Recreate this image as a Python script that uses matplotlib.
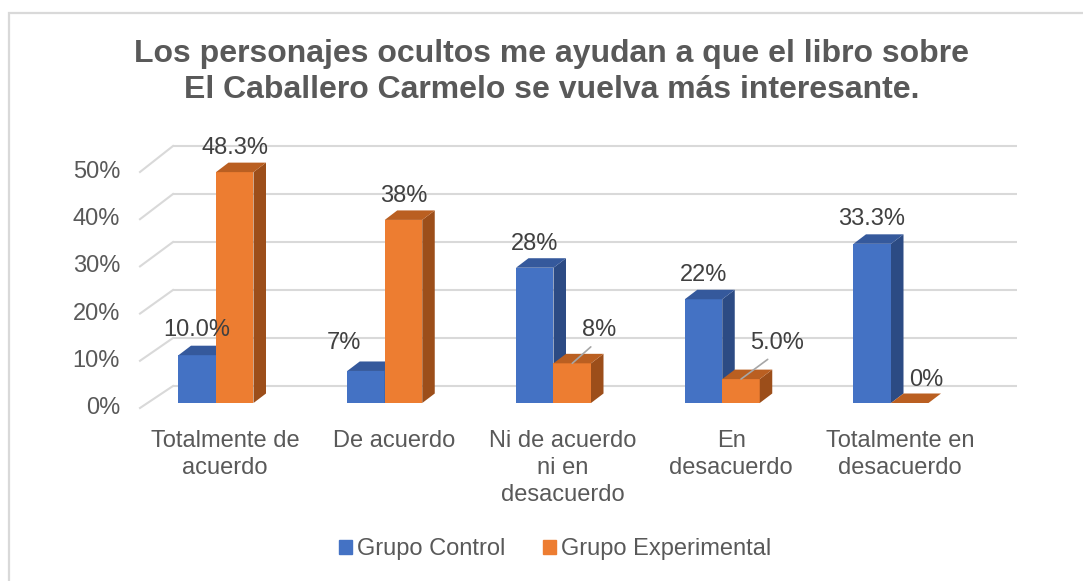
import matplotlib
matplotlib.use("Agg")
import matplotlib.pyplot as plt
from matplotlib.patches import Polygon, Rectangle

# ---------------- data ----------------
categories = ["Totalmente de\nacuerdo", "De acuerdo", "Ni de acuerdo\nni en\ndesacuerdo",
              "En\ndesacuerdo", "Totalmente en\ndesacuerdo"]
series_names = ["Grupo Control", "Grupo Experimental"]
control = [10.0, 6.7, 28.3, 21.7, 33.3]
experimental = [48.3, 38.3, 8.3, 5.0, 0.0]
control_labels = ["10.0%", "7%", "28%", "22%", "33.3%"]
experimental_labels = ["48.3%", "38%", "8%", "5.0%", "0%"]
y_ticks = [0, 10, 20, 30, 40, 50]
title = "Los personajes ocultos me ayudan a que el libro sobre\nEl Caballero Carmelo se vuelva más interesante."

# ---------------- layout constants (pixels) ----------------
W, H = 1083, 581
DPI = 100
PX_CAT = 168.75     # pixels between categories
X0 = 216.0          # pixel x of first category centre (bar plane)
Y0 = 403.0          # pixel y of value 0 in bar plane
PX_PCT = 4.78       # pixels per percent
BAR_W = 37.5 / PX_CAT
DEP_X = 12.5 / PX_CAT
DEP_Y = 9.5 / PX_PCT

FONT = "Liberation Sans"
TXT = "#595959"
LBL = "#404040"
GRID = "#D9D9D9"

blue = dict(front="#4472C4", side="#2C4B84", top="#35599C")
orange = dict(front="#ED7D31", side="#9C4E1A", top="#BA5F21")


def px_x(p):
    return (p - X0) / PX_CAT


def px_y(p):
    return (Y0 - p) / PX_PCT


fig = plt.figure(figsize=(W / DPI, H / DPI), dpi=DPI)
ax = fig.add_axes([0, 0, 1, 1])
ax.set_xlim(px_x(0), px_x(W))
ax.set_ylim(px_y(H), px_y(0))
ax.axis("off")

# chart border
ax.add_patch(Rectangle((px_x(8.5), px_y(H + 20)), px_x(W + 20) - px_x(8.5),
                       px_y(12.5) - px_y(H + 20), fill=False, edgecolor=GRID,
                       linewidth=1.6, zorder=0))

# ---------------- back wall gridlines + left slanted lines ----------------
back_left = px_x(173)
front_left = px_x(140)
right_end = px_x(1017)
for v in y_ticks:
    yb = px_y(386 - 4.8 * v)
    yf = px_y(408 - 4.72 * v)
    ax.plot([back_left, right_end], [yb, yb], color=GRID, lw=1.5, zorder=1,
            solid_capstyle="butt")
    ax.plot([front_left, back_left], [yf, yb], color=GRID, lw=1.5, zorder=1)
    ax.text(px_x(120), yf, f"{v}%", ha="right", va="center", fontsize=17,
            color=TXT, family=FONT)


# ---------------- 3D bars ----------------
def bar3d(x0, h, col, z):
    x1 = x0 + BAR_W
    ax.bar(x0, h, width=BAR_W, align="edge", color=col["front"], zorder=z,
           linewidth=0)
    side = Polygon([(x1, 0), (x1 + DEP_X, DEP_Y), (x1 + DEP_X, h + DEP_Y), (x1, h)],
                   closed=True, facecolor=col["side"], edgecolor="none", zorder=z)
    top = Polygon([(x0, h), (x0 + DEP_X, h + DEP_Y), (x1 + DEP_X, h + DEP_Y), (x1, h)],
                  closed=True, facecolor=col["top"], edgecolor="none", zorder=z)
    ax.add_patch(side)
    ax.add_patch(top)


for i in range(len(categories)):
    bar3d(i - BAR_W, control[i], blue, 3 + 2 * i)
    bar3d(i, experimental[i], orange, 4 + 2 * i)

# ---------------- data labels ----------------
ctrl_off = [(0, 25), (-22, 28), (0, 24), (0, 24), (-1, 25)]
exp_off = [(0, 24), (0, 24), (26.5, 33), (36.5, 36), (17, 23)]
leader = [False, False, True, True, False]

for i in range(len(categories)):
    cx = i - BAR_W / 2
    ax.annotate(control_labels[i], (cx, control[i]), xytext=ctrl_off[i],
                textcoords="offset pixels", ha="center", va="center",
                fontsize=17, color=LBL, family=FONT, zorder=20)
    ex = i + BAR_W / 2
    if leader[i]:
        ax.annotate(experimental_labels[i], (ex, experimental[i]), xytext=exp_off[i],
                    textcoords="offset pixels", ha="center", va="center",
                    fontsize=17, color=LBL, family=FONT, zorder=20,
                    arrowprops=dict(arrowstyle="-", color="#A6A6A6", lw=1.2,
                                    shrinkA=3, shrinkB=0, relpos=(0.45, 0.0)))
    else:
        ax.annotate(experimental_labels[i], (ex, experimental[i]), xytext=exp_off[i],
                    textcoords="offset pixels", ha="center", va="center",
                    fontsize=17, color=LBL, family=FONT, zorder=20)

# ---------------- category labels ----------------
for i, c in enumerate(categories):
    ax.text(i + px_x(X0 + 9) - px_x(X0), px_y(430), c, ha="center", va="top",
            fontsize=17, color=TXT, family=FONT, linespacing=1.3)

# ---------------- title ----------------
ax.text(px_x(552), px_y(72), title, ha="center", va="center", fontsize=23,
        fontweight="bold", color=TXT, family=FONT, linespacing=1.3)

# ---------------- legend ----------------
handles = [Rectangle((0, 0), 1, 1, color=blue["front"]),
           Rectangle((0, 0), 1, 1, color=orange["front"])]
leg = fig.legend(handles, series_names, loc="center", bbox_to_anchor=(555 / W, 1 - 549 / H),
                 ncol=2, frameon=False, prop=dict(family=FONT, size=17),
                 handlelength=0.55, handleheight=0.55, handletextpad=0.2,
                 columnspacing=1.6, borderpad=0)
for t in leg.get_texts():
    t.set_color(TXT)

fig.savefig("out.png", dpi=DPI, facecolor="white")
